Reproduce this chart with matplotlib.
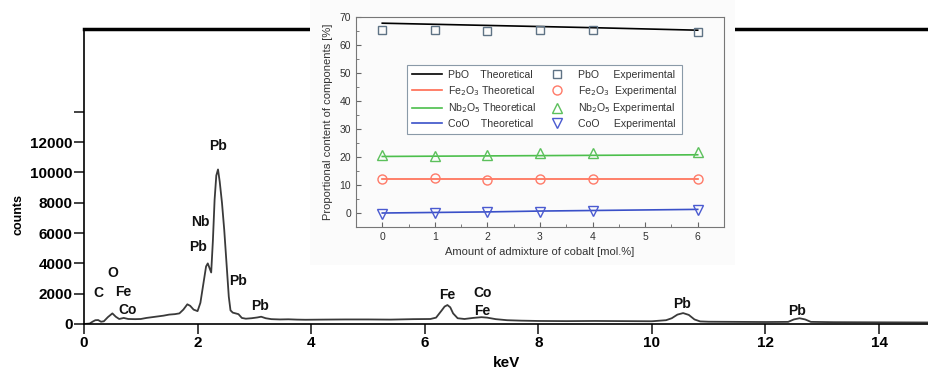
import matplotlib
matplotlib.use("Agg")
import matplotlib.pyplot as plt
from matplotlib.patches import Rectangle

plt.rcParams["font.family"] = ["Liberation Sans", "DejaVu Sans"]

# EDS spectrum
energy = [0.0, 0.1, 0.15, 0.2, 0.25, 0.3, 0.35, 0.42, 0.5, 0.56, 0.62, 0.7, 0.78, 0.9, 1.0,
          1.1, 1.2, 1.3, 1.4, 1.5, 1.6, 1.68, 1.75, 1.82, 1.87, 1.93, 2.0, 2.05, 2.1, 2.15,
          2.18, 2.21, 2.24, 2.27, 2.3, 2.33, 2.36, 2.39, 2.43, 2.47, 2.51, 2.55, 2.58, 2.62,
          2.67, 2.72, 2.78, 2.85, 2.95, 3.05, 3.12, 3.2, 3.3, 3.45, 3.6, 3.75, 3.9, 4.2,
          4.6, 5.0, 5.4, 5.8, 6.1, 6.2, 6.3, 6.35, 6.4, 6.45, 6.5, 6.58, 6.7, 6.85, 7.0,
          7.1, 7.25, 7.45, 7.7, 8.0, 8.5, 9.0, 9.5, 10.0, 10.25, 10.35, 10.45, 10.55, 10.65,
          10.75, 10.85, 11.0, 11.5, 12.0, 12.4, 12.5, 12.6, 12.7, 12.8, 13.2, 14.0, 14.9]
counts = [0, 30, 150, 250, 260, 150, 180, 450, 700, 480, 330, 400, 330, 320, 330,
          400, 450, 500, 550, 620, 650, 700, 950, 1300, 1200, 950, 850, 1400, 2600, 3800,
          4000, 3700, 3400, 5500, 8200, 9800, 10200, 9400, 8000, 6200, 4000, 1800, 900, 750,
          700, 650, 400, 350, 380, 430, 480, 380, 320, 300, 310, 290, 280, 290,
          300, 300, 290, 320, 330, 420, 900, 1150, 1250, 1100, 700, 380, 330, 400, 450,
          420, 320, 250, 220, 200, 190, 200, 190, 180, 250, 380, 620, 720, 600,
          300, 170, 150, 140, 130, 140, 300, 380, 300, 140, 120, 110, 100]

peak_labels = ["C", "O", "Fe", "Co", "Nb", "Pb", "Pb", "Pb", "Pb", "Fe", "Co", "Fe", "Pb", "Pb"]
peak_E = [0.25, 0.51, 0.69, 0.77, 2.04, 2.01, 2.36, 2.71, 3.1, 6.39, 7.01, 7.01, 10.53, 12.55]
peak_y = [2050, 3370, 2110, 920, 6730, 5080, 11750, 2840, 1190, 1910, 2050, 850, 1320, 860]

# inset: composition vs cobalt admixture
cobalt = [0, 1, 2, 3, 4, 6]
pbo_theo = [67.8, 67.4, 67.0, 66.6, 66.2, 65.3]
fe_theo = [12.2, 12.2, 12.2, 12.2, 12.2, 12.2]
nb_theo = [20.2, 20.3, 20.4, 20.5, 20.6, 20.8]
co_theo = [0.0, 0.2, 0.4, 0.7, 0.9, 1.3]
pbo_exp = [65.5, 65.2, 65.1, 65.5, 65.3, 64.6]
fe_exp = [12.3, 12.6, 11.9, 12.0, 12.3, 12.2]
nb_exp = [20.6, 20.3, 20.6, 21.5, 21.5, 21.8]
co_exp = [-0.2, 0.1, 0.3, 0.5, 0.7, 1.2]

fig = plt.figure(figsize=(9.29, 3.71), dpi=100)

ax = fig.add_axes([0.0904, 0.1267, 0.9096, 0.7951], zorder=0)
ax.plot(energy, counts, color="#3a3a3a", lw=1.3)
ax.set_xlim(0, 14.88)
ax.set_ylim(0, 19470)
ax.set_xticks(range(0, 15, 2))
ax.set_yticks(range(0, 14001, 2000))
ax.set_yticklabels([str(v) for v in range(0, 12001, 2000)] + [""])
ax.tick_params(direction="out", length=7, width=1.2, color="#222", pad=1)
ax.tick_params(axis="x", pad=2)
for lab in ax.get_xticklabels() + ax.get_yticklabels():
    lab.set_fontweight("bold")
    lab.set_fontsize(11)
ax.spines["right"].set_visible(False)
ax.spines["top"].set_linewidth(2.5)
ax.spines["left"].set_linewidth(1.2)
ax.spines["bottom"].set_linewidth(1.2)
ax.set_xlabel("keV", fontsize=11, fontweight="bold")
ax.set_ylabel("counts", fontsize=9, fontweight="bold")
ax.yaxis.set_label_coords(-0.07, 0.37)
ax.xaxis.set_label_coords(0.4995, -0.11)

for t, e, c in zip(peak_labels, peak_E, peak_y):
    ax.text(e, c, t, ha="center", va="center", fontsize=10, fontweight="bold", color="#111")

# white box behind the inset
fig.add_artist(Rectangle((0.3337, 0.2857), 0.4575, 0.7143, transform=fig.transFigure,
                         facecolor="#fbfbfb", edgecolor="none", zorder=1))

ins = fig.add_axes([0.3832, 0.3881, 0.3961, 0.566], zorder=2)
ins.set_facecolor("#fbfbfb")
ins.plot(cobalt, pbo_theo, color="black", lw=1.2, label="PbO    Theoretical")
ins.plot(cobalt, fe_theo, color="#ff6a50", lw=1.2, label="Fe$_2$O$_3$ Theoretical")
ins.plot(cobalt, nb_theo, color="#4cbf4c", lw=1.2, label="Nb$_2$O$_5$ Theoretical")
ins.plot(cobalt, co_theo, color="#3a50c8", lw=1.2, label="CoO    Theoretical")
ins.plot(cobalt, pbo_exp, ls="none", marker="s", ms=6, mfc="none", mec="#5f7385", mew=1,
         label="PbO     Experimental")
ins.plot(cobalt, fe_exp, ls="none", marker="o", ms=6.5, mfc="none", mec="#ff7a68", mew=1,
         label="Fe$_2$O$_3$  Experimental")
ins.plot(cobalt, nb_exp, ls="none", marker="^", ms=7, mfc="none", mec="#5cc05c", mew=1,
         label="Nb$_2$O$_5$ Experimental")
ins.plot(cobalt, co_exp, ls="none", marker="v", ms=7, mfc="none", mec="#4a5ad0", mew=1,
         label="CoO     Experimental")
ins.set_xlim(-0.5, 6.5)
ins.set_ylim(-5, 70)
ins.set_xticks(range(0, 7))
ins.set_xticks([x + 0.5 for x in range(-1, 7)], minor=True)
ins.set_yticks(range(0, 71, 10))
ins.set_yticks(range(-5, 70, 10), minor=True)
ins.tick_params(which="both", direction="in", color="#666", labelsize=7.5, labelcolor="#333")
ins.tick_params(which="major", length=3.5)
ins.tick_params(which="minor", length=2)
for s in ins.spines.values():
    s.set_color("#777")
    s.set_linewidth(0.8)
ins.set_xlabel("Amount of admixture of cobalt [mol.%]", fontsize=8, color="#333", labelpad=4)
ins.set_ylabel("Proportional content of components [%]", fontsize=8, color="#333", labelpad=5)
leg = ins.legend(loc="upper left", bbox_to_anchor=(0.125, 0.795), ncol=2, fontsize=7.6,
                 frameon=True, fancybox=False, edgecolor="#8a9aa8", framealpha=1,
                 handlelength=2.8, handletextpad=0.6, columnspacing=0.6,
                 labelspacing=0.35, borderpad=0.45)
leg.get_frame().set_linewidth(0.8)
for txt in leg.get_texts():
    txt.set_color("#333")

fig.savefig("out.png", dpi=100, facecolor="white")
